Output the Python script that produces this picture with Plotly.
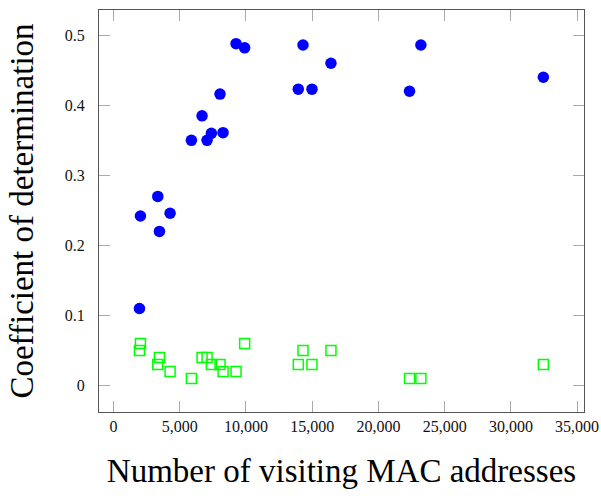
import plotly.graph_objects as go

# Number of visiting MAC addresses per site (shared by both series)
mac_counts = [1961, 2036, 3344, 3469, 4273, 5882, 6686, 7064, 7391, 8044,
              8270, 9253, 9902, 13952, 14306, 14985, 16418, 22349, 23205, 32451]

# Coefficient of determination, first model (filled circles)
r2_model_a = [0.110, 0.242, 0.270, 0.220, 0.246, 0.350, 0.385, 0.350, 0.360, 0.416,
              0.361, 0.488, 0.482, 0.423, 0.486, 0.423, 0.460, 0.420, 0.486, 0.440]

# Coefficient of determination, second model (open squares)
r2_model_b = [0.05, 0.06, 0.03, 0.04, 0.02, 0.01, 0.04, 0.04, 0.03, 0.03,
              0.02, 0.02, 0.06, 0.03, 0.05, 0.03, 0.05, 0.01, 0.01, 0.03]

x_ticks = [0, 5000, 10000, 15000, 20000, 25000, 30000, 35000]
y_ticks = [0, 0.1, 0.2, 0.3, 0.4, 0.5]

serif = "Liberation Serif, Times New Roman, serif"

fig = go.Figure()
fig.add_trace(go.Scatter(
    x=mac_counts, y=r2_model_a, mode="markers",
    marker=dict(symbol="circle", size=11.5, color="#0000ff", line=dict(width=0)),
    showlegend=False,
))
fig.add_trace(go.Scatter(
    x=mac_counts, y=r2_model_b, mode="markers",
    marker=dict(symbol="square-open", size=10, color="#00ff00", line=dict(width=1.5)),
    showlegend=False,
))

axis_common = dict(
    showline=True, linecolor="#555555", linewidth=1, mirror="ticks",
    ticks="inside", ticklen=11, tickcolor="#aaaaaa", tickwidth=1,
    showgrid=False, zeroline=False, automargin=False,
    tickfont=dict(family=serif, size=16, color="#111111"),
    title_font=dict(family=serif, size=33, color="#000000"),
)

fig.update_layout(
    width=601, height=498,
    margin=dict(l=99, r=17, t=10, b=86),
    paper_bgcolor="white", plot_bgcolor="white",
    xaxis=dict(axis_common, range=[-1093, 35520], tickvals=x_ticks,
               tickformat=",d", ticklabelstandoff=0,
               title=dict(text="Number of visiting MAC addresses", standoff=24)),
    yaxis=dict(axis_common, range=[-0.0377, 0.536], tickvals=y_ticks,
               ticklabelstandoff=10,
               title=dict(text="Coefficient of determination", standoff=21)),
)

fig.write_html("out.html")
